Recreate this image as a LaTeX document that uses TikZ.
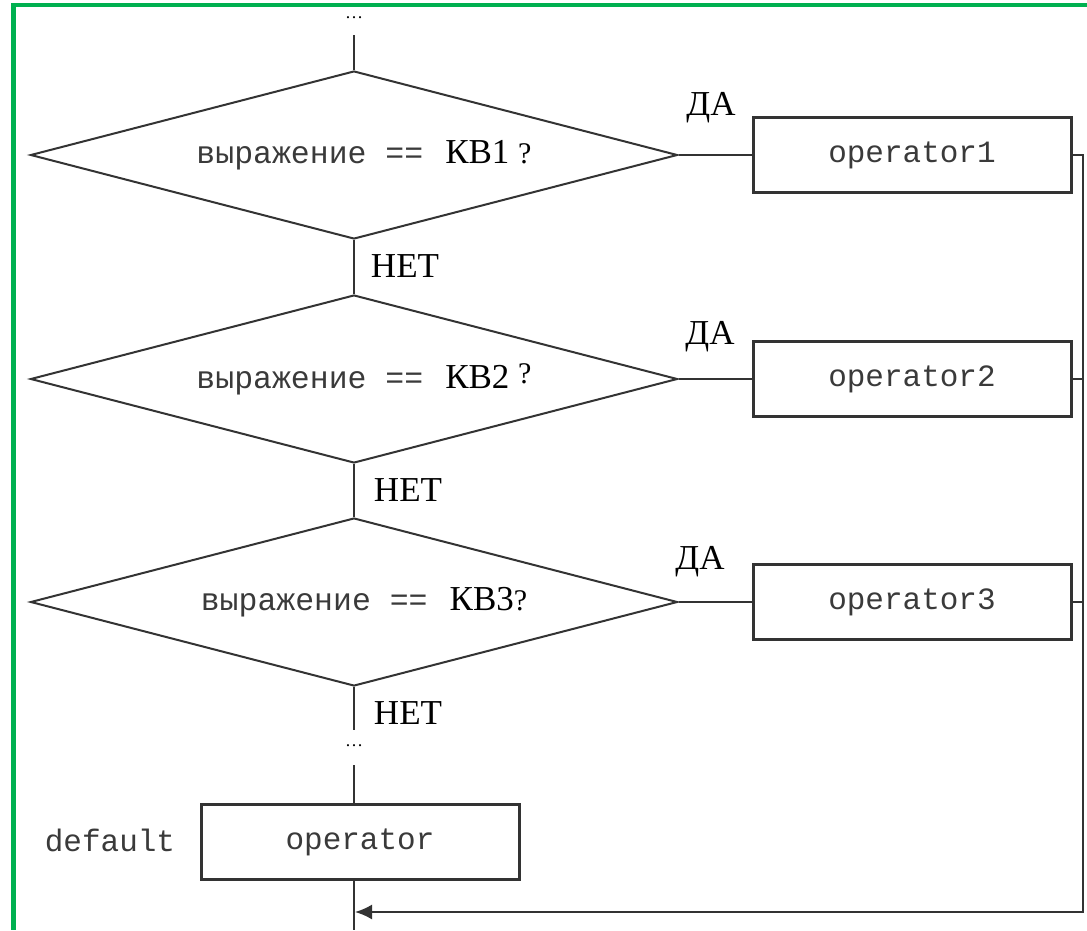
\documentclass[tikz,border=0pt]{standalone}
\usepackage{fontspec}
\setmainfont{Liberation Serif}
\setmonofont{Liberation Mono}
\usepackage{tikz}
\usetikzlibrary{shapes.geometric,arrows.meta}

\definecolor{frame}{HTML}{00B050}
\definecolor{ink}{HTML}{333333}
\definecolor{code}{HTML}{3A3A3A}

\tikzset{
  every node/.style={font=\fontsize{35}{40}\selectfont, text=black},
  cond/.style={draw=ink, line width=2pt, diamond, aspect=3.84, inner sep=0pt,
    minimum width=647pt, minimum height=168pt},
  opbox/.style={draw=ink, line width=3pt, rectangle, minimum width=318pt,
    minimum height=75pt, font=\ttfamily\fontsize{31}{36}\selectfont, text=code},
  codelabel/.style={font=\ttfamily\fontsize{31}{36}\selectfont, text=code},
  dots/.style={font=\fontsize{18}{20}\selectfont},
  flow/.style={draw=ink, line width=2pt}
}
\newcommand{\cmp}{\hspace*{20pt}{\ttfamily\fontsize{31.5}{36}\selectfont\color{code}выражение ==}\hspace{22pt}}
\newcommand{\qm}{{\fontsize{30}{34}\selectfont ?}}

\begin{document}
\begin{tikzpicture}[x=1pt, y=-1pt]

\useasboundingbox (0,0) rectangle (1087,930);

% frame
\fill[frame] (11,3) rectangle (1087,7);
\fill[frame] (11,3) rectangle (16,930);

% entry
\node[dots] (topdots) at (354,18) {…};
\coordinate (top) at (354,35);

% conditions
\node[cond] (d1) at (354,155) {\cmp КВ1 \qm};
\node[cond] (d2) at (354,379) {\cmp КВ2 \raisebox{5pt}{\qm}};
\node[cond] (d3) at (354,602) {\cmp КВ3\qm};

% case operators
\node[opbox] (op1) at (912,155) {operator1};
\node[opbox] (op2) at (912,379) {operator2};
\node[opbox] (op3) at (912,602) {operator3};

% branch labels
\node (yes1) at (711,108) {ДА};
\node (yes2) at (710,337) {ДА};
\node (yes3) at (700,562) {ДА};
\node (no1) at (405,266) {НЕТ};
\node (no2) at (408,490) {НЕТ};
\node (no3) at (408,713) {НЕТ};

% default branch
\node[dots] (middots) at (354,746) {…};
\coordinate (gapa) at (354,730);
\coordinate (gapb) at (354,765);
\node[opbox] (opdef) at (360,842) {operator};
\node[codelabel] (deflabel) at (110,840) {default};

% exit
\coordinate (rail) at (1083,912);
\coordinate (join) at (355,912);
\coordinate (bottom) at (354,930);

% main line
\draw[flow] (top) -- (d1.north);
\draw[flow] (d1.south) -- (d2.north);
\draw[flow] (d2.south) -- (d3.north);
\draw[flow] (d3.south) -- (gapa);
\draw[flow] (gapb) -- (opdef.north -| gapb);
\draw[flow] (opdef.south -| bottom) -- (bottom);

% yes branches
\draw[flow] (d1.east) -- (op1.west);
\draw[flow] (d2.east) -- (op2.west);
\draw[flow] (d3.east) -- (op3.west);

% back to exit
\draw[flow, -{Latex[length=17pt, width=15pt]}] (op1.east) -| (rail) -- (join);
\draw[flow] (op2.east) -- (op2.east -| rail);
\draw[flow] (op3.east) -- (op3.east -| rail);

\end{tikzpicture}
\end{document}
